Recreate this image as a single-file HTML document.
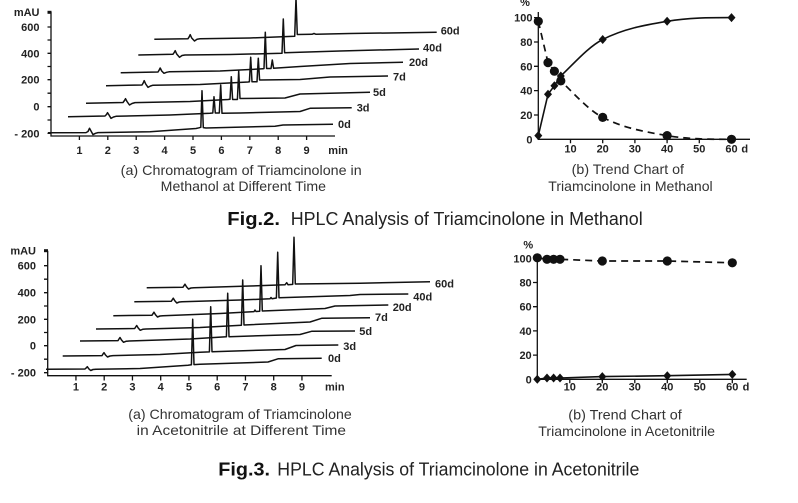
<!DOCTYPE html>
<html>
<head>
<meta charset="utf-8">
<style>
  html, body { margin:0; padding:0; background:#fff; }
  body { width:798px; height:503px; overflow:hidden; }
  svg { display:block; }
  .tk { font-family:"Liberation Sans", Arial, sans-serif; font-size:11px; font-weight:bold; fill:#222; }
  .cap { font-family:"Liberation Sans", Arial, sans-serif; font-size:14px; fill:#333; }
  .ttl { font-family:"Liberation Sans", Arial, sans-serif; font-size:18px; fill:#222; }
  .ttlb { font-family:"Liberation Sans", Arial, sans-serif; font-size:18px; font-weight:bold; fill:#111; }
  .tr { fill:none; stroke:#111; stroke-width:1.5; stroke-linejoin:round; }
  .ax { fill:none; stroke:#111; stroke-width:1.3; }
</style>
</head>
<body>
<svg width="798" height="503" viewBox="0 0 798 503" xmlns="http://www.w3.org/2000/svg">
<rect width="798" height="503" fill="#fff"/>

<!-- ===================== TOP LEFT CHROMATOGRAM ===================== -->
<g>
  <!-- axes -->
  <path class="ax" d="M51,12 L51,136 L335,136"/>
  <path class="ax" d="M47.5,12.3 H51 M47.5,27 H51 M47.5,40 H51 M47.5,53.3 H51 M47.5,66.5 H51 M47.5,79.7 H51 M47.5,93.2 H51 M47.5,106.7 H51 M47.5,120 H51 M47.5,133.3 H51"/>
  <rect x="47.5" y="10.8" width="4" height="3" fill="#111"/>
  <path class="ax" d="M79.4,136 V140 M107.8,136 V140 M136.2,136 V140 M164.6,136 V140 M193,136 V140 M221.4,136 V140 M249.8,136 V140 M278.2,136 V140 M306.6,136 V140"/>
  <g class="tk" text-anchor="end">
    <text x="39.5" y="16">mAU</text>
    <text x="39.5" y="31">600</text>
    <text x="39.5" y="57.3">400</text>
    <text x="39.5" y="83.7">200</text>
    <text x="39.5" y="110.7">0</text>
    <text x="39.5" y="137.3">- 200</text>
  </g>
  <g class="tk" text-anchor="middle">
    <text x="79.4" y="154">1</text>
    <text x="107.8" y="154">2</text>
    <text x="136.2" y="154">3</text>
    <text x="164.6" y="154">4</text>
    <text x="193" y="154">5</text>
    <text x="221.4" y="154">6</text>
    <text x="249.8" y="154">7</text>
    <text x="278.2" y="154">8</text>
    <text x="306.6" y="154">9</text>
  </g>
  <text class="tk" x="328.3" y="154">min</text>

  <!-- traces -->
  <path class="tr" d="M48,132.7 L86,132.6 L88,131.5 L89.5,128.3 L91,131 L93,134.6 L95.5,133.3 L98,132.6 L150,131.8 L196,128.5 L199,127.8 L200.8,127.3 L202,90.7 L203.3,127.6 L206,128 L275,126.2 L283,125 L333,124.3"/>
  <path class="tr" d="M68,116.7 L105,116 L106.5,114.5 L107.5,112.7 L109,115 L111,118.3 L113.5,117 L116,116.3 L170,115 L210,113.3 L212.8,113 L214,96.7 L215.3,113 L219.3,113 L220.7,85 L222,113.3 L240,113 L300,111.5 L310,108.3 L351.7,107.7"/>
  <path class="tr" d="M86,103.3 L123,102.5 L124.5,100.5 L125.5,98.7 L127,101.5 L129.5,105 L132,103.5 L135,102.6 L190,101.5 L228,99.5 L230,99.3 L231.3,76.7 L232.6,99.5 L237.4,99.5 L238.7,71 L240,98.5 L285,98 L300,94 L370,92.3"/>
  <path class="tr" d="M106,85.7 L142,85 L143.2,83 L144.2,80.7 L145.7,84 L148,87.3 L150.5,86 L153,85.2 L200,84.5 L248,82 L249.4,81.8 L250.7,57.3 L252,81.8 L257,81.8 L258.3,58.3 L259.6,80 L300,79.5 L330,77 L388,76"/>
  <path class="tr" d="M120.7,72.7 L158,72 L159.2,70 L160.2,68 L161.7,71 L164,73.3 L166.5,72.3 L169,71.8 L220,71 L240,70 L263,68.8 L264,68.5 L265.3,32.3 L266.6,68.5 L271,68.5 L272.3,60 L273.6,68.3 L300,66.5 L350,63.5 L403,62.3"/>
  <path class="tr" d="M138.3,55 L173,54.2 L174.2,52.5 L175.2,50.7 L176.7,54 L179.5,57.3 L182,55.5 L185,55 L230,54.5 L282,53.3 L283.3,19 L284.6,52.7 L300,52.3 L340,51 L419,49"/>
  <path class="tr" d="M154.3,39.3 L188,38.7 L189.2,36.8 L190.2,34.7 L191.7,38 L194.5,41 L197,39.3 L200,38.8 L250,38 L294.7,36.3 L296,-2 L297.3,34.5 L312,34.3 L314,33.5 L316,34.3 L350,33.5 L436.7,32.3"/>
  <g class="tk">
    <text x="338" y="128">0d</text>
    <text x="356.7" y="111.7">3d</text>
    <text x="373" y="96">5d</text>
    <text x="393" y="80.7">7d</text>
    <text x="409" y="66">20d</text>
    <text x="423" y="51.7">40d</text>
    <text x="440.7" y="34.7">60d</text>
  </g>
  <text class="cap" x="120.7" y="175" textLength="241" lengthAdjust="spacingAndGlyphs">(a) Chromatogram of Triamcinolone in</text>
  <text class="cap" x="160.7" y="191" textLength="165.3" lengthAdjust="spacingAndGlyphs">Methanol at Different Time</text>
</g>

<!-- ===================== TOP RIGHT TREND ===================== -->
<g>
  <path class="ax" d="M538.3,12 L538.3,139.3 L750,139.3"/>
  <path class="ax" d="M534,17.6 H538.3 M534,42 H538.3 M534,66.3 H538.3 M534,90.6 H538.3 M534,115 H538.3"/>
  <path class="ax" d="M570.5,139.3 V143.3 M602.7,139.3 V143.3 M634.9,139.3 V143.3 M667.1,139.3 V143.3 M699.3,139.3 V143.3 M731.5,139.3 V143.3"/>
  <g class="tk" text-anchor="end">
    <text x="532.5" y="21.6">100</text>
    <text x="532.5" y="46">80</text>
    <text x="532.5" y="70.3">60</text>
    <text x="532.5" y="94.6">40</text>
    <text x="532.5" y="119">20</text>
    <text x="532.5" y="143.3">0</text>
  </g>
  <text class="tk" x="525" y="6" text-anchor="middle" font-size="9">%</text>
  <g class="tk" text-anchor="middle">
    <text x="570.5" y="152.3">10</text>
    <text x="602.7" y="152.3">20</text>
    <text x="634.9" y="152.3">30</text>
    <text x="667.1" y="152.3">40</text>
    <text x="699.3" y="152.3">50</text>
    <text x="731.5" y="152.3">60</text>
    <text x="744.7" y="152.3">d</text>
  </g>
  <!-- solid curve (diamonds) -->
  <path fill="none" stroke="#111" stroke-width="1.6" d="M538.3,135.6 L548,94.3 L554.4,85.7 L560.8,76 C574.8,62.6 588.7,46.6 602.7,39.5 C624.2,28.5 645.6,24.96 667.1,21.3 C688.6,17.6 710,17.6 731.5,17.6"/>
  <!-- dashed curve (circles) -->
  <path fill="none" stroke="#111" stroke-width="1.7" stroke-dasharray="7 5" d="M538.3,21.3 L548,62.6 L554.4,71.2 L560.8,80.9 C574.8,94.3 588.7,110.3 602.7,117.4 C624.2,128.4 645.6,131.9 667.1,135.6 C688.6,139.3 710,139.3 731.5,139.3"/>
  <g fill="#111">
    <circle cx="538.3" cy="21.3" r="4.6"/>
    <circle cx="548" cy="62.6" r="4.6"/>
    <circle cx="554.4" cy="71.2" r="4.6"/>
    <circle cx="560.8" cy="80.9" r="4.6"/>
    <circle cx="602.7" cy="117.4" r="4.6"/>
    <circle cx="667.1" cy="135.6" r="4.6"/>
    <circle cx="731.5" cy="139.3" r="4.6"/>
    <path d="M538.3,131.1 L542.3,135.6 L538.3,140.1 L534.3,135.6Z"/>
    <path d="M548,89.8 L552,94.3 L548,98.8 L544,94.3Z"/>
    <path d="M554.4,81.2 L558.4,85.7 L554.4,90.2 L550.4,85.7Z"/>
    <path d="M560.8,71.5 L564.8,76 L560.8,80.5 L556.8,76Z"/>
    <path d="M602.7,35 L606.7,39.5 L602.7,44 L598.7,39.5Z"/>
    <path d="M667.1,16.8 L671.1,21.3 L667.1,25.8 L663.1,21.3Z"/>
    <path d="M731.5,13.1 L735.5,17.6 L731.5,22.1 L727.5,17.6Z"/>
  </g>
  <text class="cap" x="571.7" y="174" textLength="112.3" lengthAdjust="spacingAndGlyphs">(b) Trend Chart of</text>
  <text class="cap" x="548.3" y="191" textLength="164.4" lengthAdjust="spacingAndGlyphs">Triamcinolone in Methanol</text>
</g>

<!-- ===================== FIG 2 TITLE ===================== -->
<text class="ttlb" x="227.3" y="225" textLength="52.7" lengthAdjust="spacingAndGlyphs">Fig.2.</text>
<text class="ttl" x="290.7" y="225" textLength="352" lengthAdjust="spacingAndGlyphs">HPLC Analysis of Triamcinolone in Methanol</text>

<!-- ===================== BOTTOM LEFT CHROMATOGRAM ===================== -->
<g>
  <path class="ax" d="M47.7,250.7 L47.7,375.7 L331.7,375.7"/>
  <path class="ax" d="M44,250.7 H47.7 M44,265.7 H47.7 M44,279.2 H47.7 M44,292.7 H47.7 M44,306 H47.7 M44,319.3 H47.7 M44,332.5 H47.7 M44,345.7 H47.7 M44,359.2 H47.7 M44,372.7 H47.7"/>
  <rect x="44" y="249.2" width="4" height="3" fill="#111"/>
  <path class="ax" d="M75.95,375.7 V380.5 M104.2,375.7 V380.5 M132.45,375.7 V380.5 M160.7,375.7 V380.5 M188.95,375.7 V380.5 M217.2,375.7 V380.5 M245.45,375.7 V380.5 M273.7,375.7 V380.5 M301.95,375.7 V380.5"/>
  <g class="tk" text-anchor="end">
    <text x="36" y="254.7">mAU</text>
    <text x="36" y="269.7">600</text>
    <text x="36" y="296.7">400</text>
    <text x="36" y="323.3">200</text>
    <text x="36" y="349.7">0</text>
    <text x="36" y="376.7">- 200</text>
  </g>
  <g class="tk" text-anchor="middle">
    <text x="75.95" y="390.7">1</text>
    <text x="104.2" y="390.7">2</text>
    <text x="132.45" y="390.7">3</text>
    <text x="160.7" y="390.7">4</text>
    <text x="188.95" y="390.7">5</text>
    <text x="217.2" y="390.7">6</text>
    <text x="245.45" y="390.7">7</text>
    <text x="273.7" y="390.7">8</text>
    <text x="301.95" y="390.7">9</text>
  </g>
  <text class="tk" x="325" y="390.7">min</text>

  <path class="tr" d="M46,369.3 L85,369 L86.3,367.8 L87.3,366.7 L88.8,368.8 L90.7,370.5 L93,369.5 L96,369.2 L140,368.5 L188,365.2 L191.4,364.8 L192.7,319.3 L194,364.6 L200,364.3 L268,362 L278,358.8 L321.7,358.3"/>
  <path class="tr" d="M62.7,356 L102,355.6 L103,354 L104,352.7 L105.5,355 L107.5,357 L110,356 L113,355.6 L160,354.5 L200,352.2 L209.4,351.9 L210.7,306.7 L212,351.7 L285,349.5 L296,345.5 L338.3,345"/>
  <path class="tr" d="M80,341 L118,340.6 L119,339 L120,337.5 L121.5,340 L123.5,342.3 L126,341.3 L129,341 L190,339 L226.4,336.8 L227.7,293.3 L229,336.7 L300,334.5 L312,331.2 L355,331"/>
  <path class="tr" d="M96,329 L134.7,328.5 L135.7,327 L136.7,325.5 L138.2,328 L140.2,330.3 L142.7,329.3 L146,329 L200,327.5 L241.4,325.2 L242.7,280 L244,325 L310,322 L322,318.2 L370,317.7"/>
  <path class="tr" d="M113.3,315.7 L152,315.2 L153,313.7 L154,312.2 L155.5,314.7 L157.5,317 L160,316 L163,315.7 L220,313.5 L254,311.6 L255,310 L256,311.5 L259.7,311.2 L261,265.7 L262.3,311 L325,308.5 L335,306 L388.3,305"/>
  <path class="tr" d="M134.3,301.7 L171.3,301.2 L172.3,299.7 L173.3,298.2 L174.8,300.7 L176.8,303 L179.3,302 L182,301.7 L240,300 L270,298.8 L271,297.5 L272,298.7 L276.4,298 L277.7,252.3 L279,297.7 L350,295.5 L360,294.5 L408.3,294"/>
  <path class="tr" d="M146.7,287.7 L183,287.2 L184,285.7 L185,284.2 L186.5,286.7 L188.5,289 L191,288 L194,287.7 L250,286 L285,284.8 L286.7,282.7 L288,284.7 L292.7,284.4 L294,237.3 L295.3,284 L360,283.2 L430,281.7"/>
  <g class="tk">
    <text x="328" y="362">0d</text>
    <text x="343.3" y="350">3d</text>
    <text x="359.3" y="335">5d</text>
    <text x="375" y="321">7d</text>
    <text x="392.7" y="311">20d</text>
    <text x="413.3" y="300.7">40d</text>
    <text x="435" y="287.3">60d</text>
  </g>
  <text class="cap" x="128.3" y="419" textLength="223.4" lengthAdjust="spacingAndGlyphs">(a) Chromatogram of Triamcinolone</text>
  <text class="cap" x="136.7" y="435" textLength="209.3" lengthAdjust="spacingAndGlyphs">in Acetonitrile at Different Time</text>
</g>

<!-- ===================== BOTTOM RIGHT TREND ===================== -->
<g>
  <path class="ax" d="M537.3,256 L537.3,379.3 L746.7,379.3"/>
  <path class="ax" d="M533,258.3 H537.3 M533,282.5 H537.3 M533,306.7 H537.3 M533,330.9 H537.3 M533,355.1 H537.3"/>
  <path class="ax" d="M569.8,379.3 V383.3 M602.3,379.3 V383.3 M634.8,379.3 V383.3 M667.3,379.3 V383.3 M699.8,379.3 V383.3 M732.3,379.3 V383.3"/>
  <g class="tk" text-anchor="end">
    <text x="531.7" y="262.3">100</text>
    <text x="531.7" y="286.5">80</text>
    <text x="531.7" y="310.7">60</text>
    <text x="531.7" y="334.9">40</text>
    <text x="531.7" y="359.1">20</text>
    <text x="531.7" y="383.3">0</text>
  </g>
  <text class="tk" x="528.3" y="248.5" text-anchor="middle" font-size="9">%</text>
  <g class="tk" text-anchor="middle">
    <text x="569.8" y="390.7">10</text>
    <text x="602.3" y="390.7">20</text>
    <text x="634.8" y="390.7">30</text>
    <text x="667.3" y="390.7">40</text>
    <text x="699.8" y="390.7">50</text>
    <text x="732.3" y="390.7">60</text>
    <text x="746" y="390.7">d</text>
  </g>
  <path fill="none" stroke="#111" stroke-width="1.7" stroke-dasharray="7 5" d="M537.3,257.8 L547,259.3 L553.6,259.3 L560,259.3 L602.3,261 L667.3,261 L732.3,262.8"/>
  <path fill="none" stroke="#111" stroke-width="1.6" d="M537.3,379.3 L547,378 L553.6,378 L560,378 L602.3,376.6 L667.3,375.7 L732.3,374.4"/>
  <g fill="#111">
    <circle cx="537.3" cy="257.8" r="4.6"/>
    <circle cx="547" cy="259.3" r="4.6"/>
    <circle cx="553.6" cy="259.3" r="4.6"/>
    <circle cx="560" cy="259.3" r="4.6"/>
    <circle cx="602.3" cy="261" r="4.6"/>
    <circle cx="667.3" cy="261" r="4.6"/>
    <circle cx="732.3" cy="262.8" r="4.6"/>
    <path d="M537.3,374.8 L541.3,379.3 L537.3,383.8 L533.3,379.3Z"/>
    <path d="M547,373.5 L551,378 L547,382.5 L543,378Z"/>
    <path d="M553.6,373.5 L557.6,378 L553.6,382.5 L549.6,378Z"/>
    <path d="M560,373.5 L564,378 L560,382.5 L556,378Z"/>
    <path d="M602.3,372.1 L606.3,376.6 L602.3,381.1 L598.3,376.6Z"/>
    <path d="M667.3,371.2 L671.3,375.7 L667.3,380.2 L663.3,375.7Z"/>
    <path d="M732.3,369.9 L736.3,374.4 L732.3,378.9 L728.3,374.4Z"/>
  </g>
  <text class="cap" x="568.3" y="419.5" textLength="113.4" lengthAdjust="spacingAndGlyphs">(b) Trend Chart of</text>
  <text class="cap" x="538.3" y="436" textLength="176.7" lengthAdjust="spacingAndGlyphs">Triamcinolone in Acetonitrile</text>
</g>

<!-- ===================== FIG 3 TITLE ===================== -->
<text class="ttlb" x="218.3" y="475.5" textLength="51.7" lengthAdjust="spacingAndGlyphs">Fig.3.</text>
<text class="ttl" x="277.3" y="475.5" textLength="362" lengthAdjust="spacingAndGlyphs">HPLC Analysis of Triamcinolone in Acetonitrile</text>

</svg>
</body>
</html>
